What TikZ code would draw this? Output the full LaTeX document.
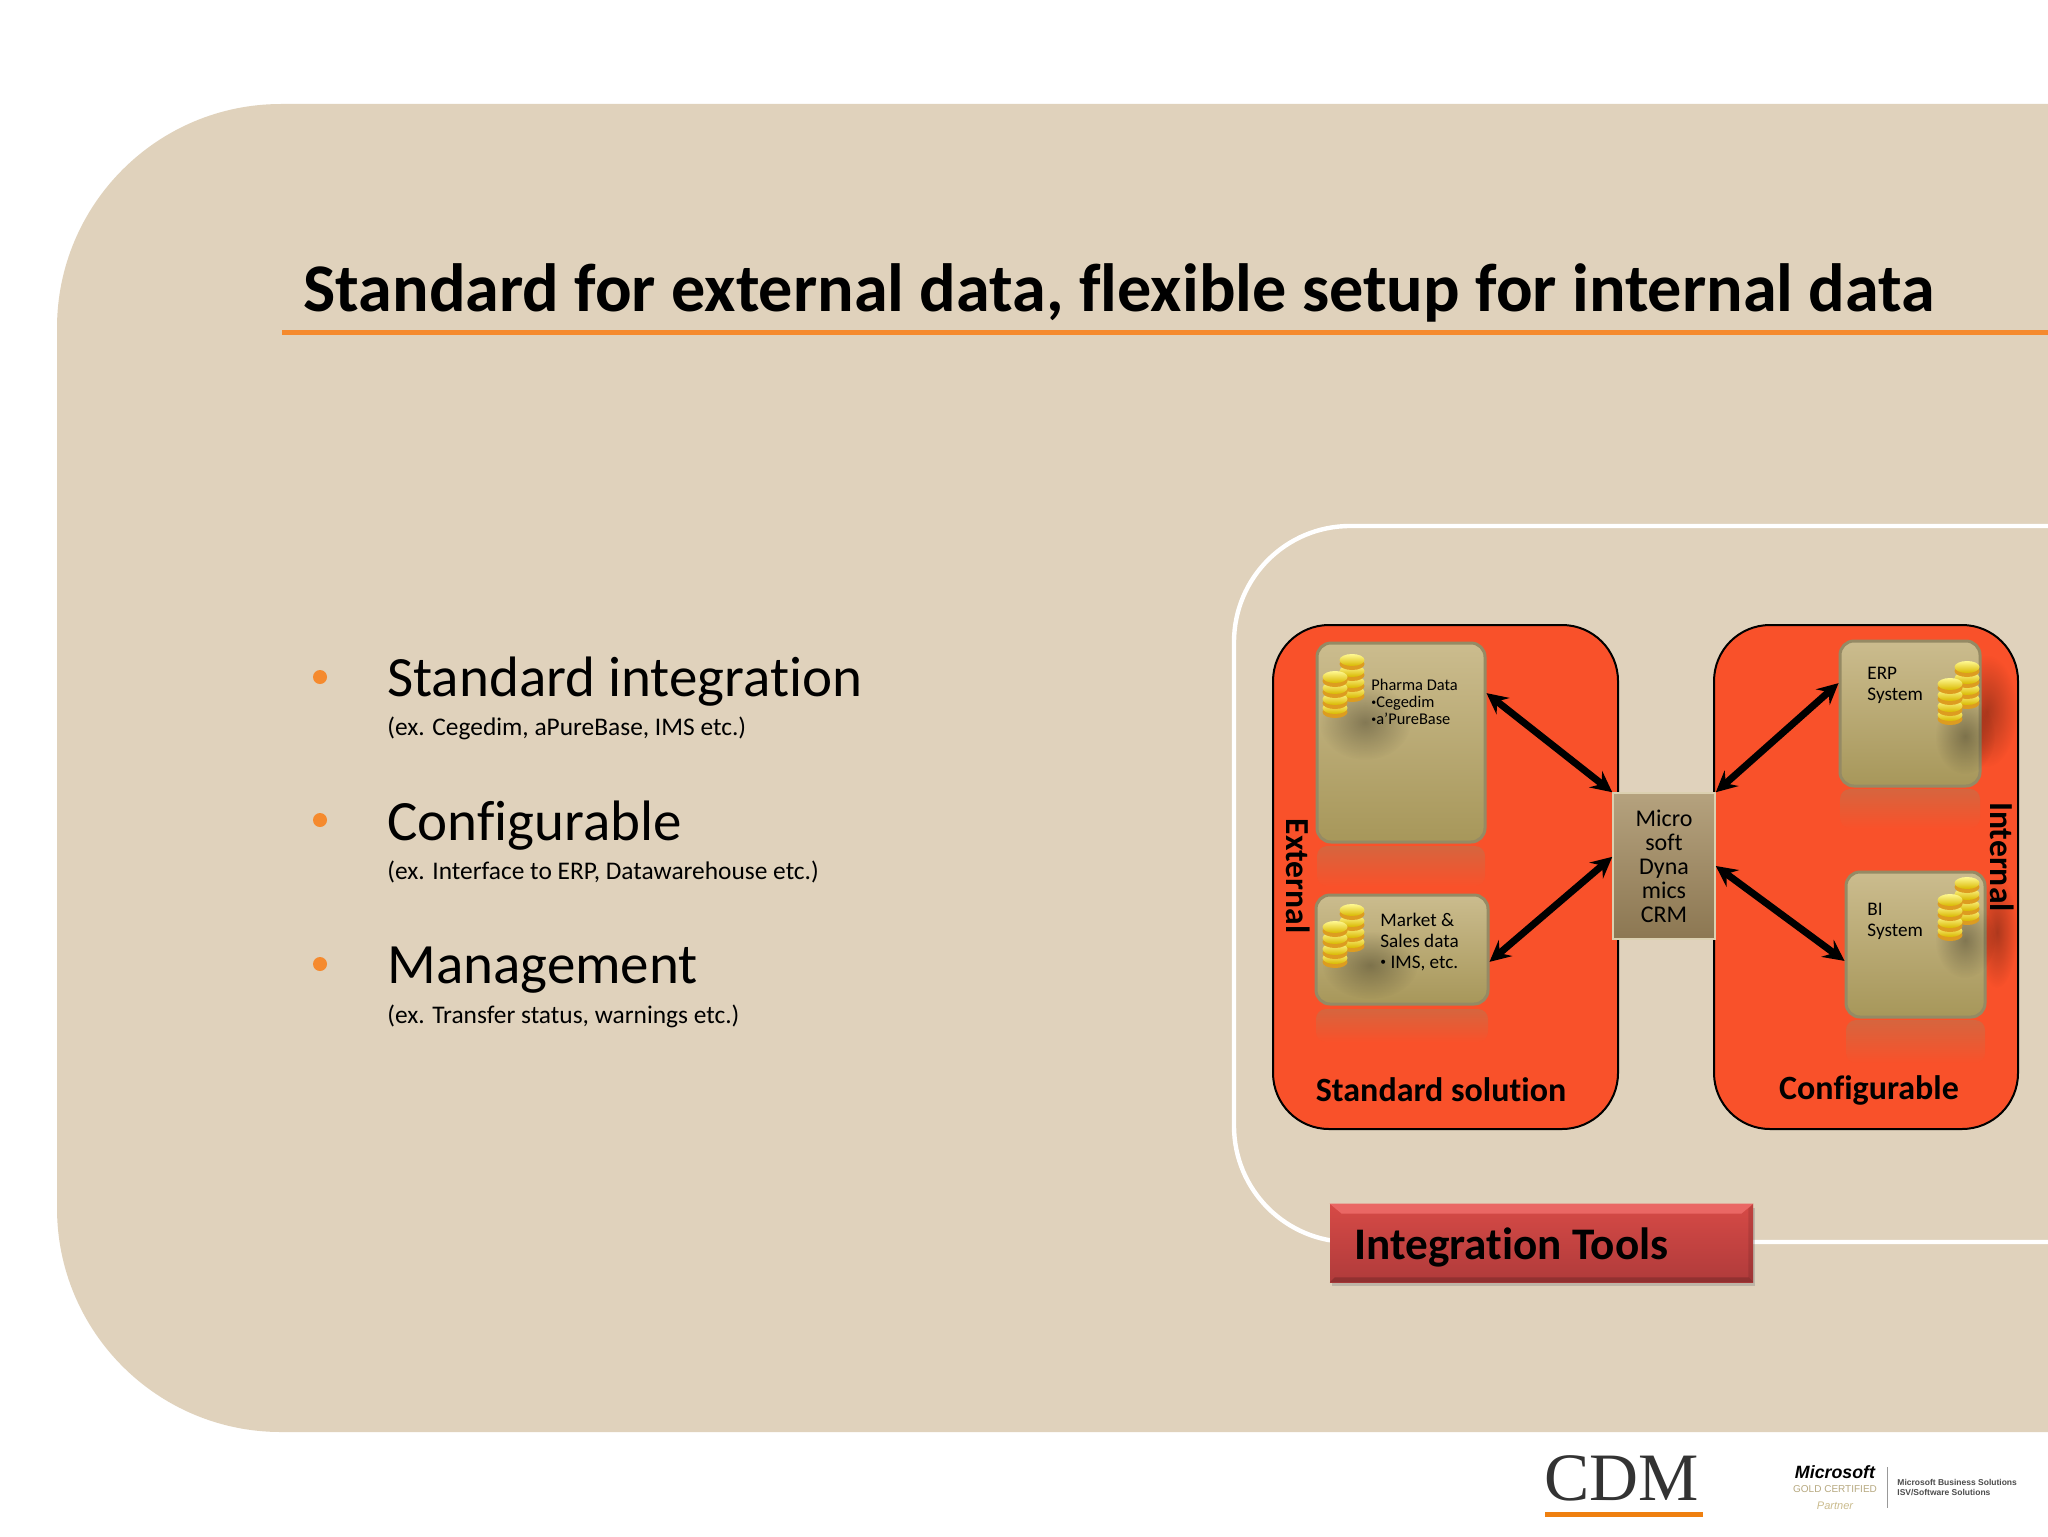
\documentclass[tikz,border=0pt]{standalone}
\usepackage{fontspec}
\usepackage{xcolor}
\setmainfont{Carlito}[Ligatures=CommonOff]
\newfontfamily\logoserif{Liberation Serif}
\newfontfamily\logosans{Liberation Sans}
\usetikzlibrary{positioning}
\usetikzlibrary{arrows,calc,fadings,shadows}
\definecolor{panelcol}{HTML}{E0D2BC}
\definecolor{redcol}{HTML}{F9512A}
\definecolor{rulecol}{HTML}{F58A2E}
\definecolor{boxtop}{HTML}{CBBC8E}
\definecolor{boxbot}{HTML}{A7975A}
\definecolor{boxline}{HTML}{958A64}
\definecolor{crmtop}{HTML}{B5A27E}
\definecolor{crmbot}{HTML}{8C7752}
\definecolor{toolstop}{HTML}{D64A46}
\definecolor{toolsbot}{HTML}{B03B3B}
\newcommand{\fsize}[1]{\fontsize{#1}{#1}\selectfont}
\newcommand{\tinydot}{\raisebox{.14em}{\scalebox{.6}{•}}}
\tikzfading[name=softspot, inner color=transparent!0, outer color=transparent!100]
\tikzset{
   coin/.pic={
       \fill[color=boxline!40!orange!80!yellow] (0,4) ellipse [x radius=12.5, y radius=6];
       \shade[top color=yellow!40!white!95!orange, bottom color=orange!30!yellow!85!black] (0,0) ellipse [x radius=12.5, y radius=6];
   },
   coins/.pic={
       \pic at (9,12) {coin};
       \pic at (9,2) {coin};
       \pic at (9,-9) {coin};
       \pic at (9,-20) {coin};
       \pic at (-8,28) {coin};
       \pic at (-8,19) {coin};
       \pic at (-8,8) {coin};
       \pic at (-8,-3) {coin};
   },
}
\begin{document}
\begin{tikzpicture} [
       x=0.5pt, y=-0.5pt,
       bulletdot/.style={circle, fill=rulecol, inner sep=0pt, minimum size=7pt},
       headline/.style={anchor=base west, inner sep=0pt, font=\fsize{28.5}},
       subline/.style={anchor=base west, inner sep=0pt, font=\fsize{12.7}},
       redbox/.style={draw=black, line width=1pt, fill=redcol, rounded corners=28pt, inner sep=0pt, minimum height=252pt},
       databox/.style={draw=boxline, line width=1.5pt, top color=boxtop, bottom color=boxbot, rounded corners=7pt, inner sep=0pt},
       mirror/.style={top color=boxline!35!redcol, bottom color=redcol, rounded corners=5pt},
       smudge/.style={fill=black, opacity=.3, path fading=softspot},
       boxtext/.style={anchor=west, align=left, inner sep=0pt},
       sidetext/.style={rotate=-90, inner sep=0pt, font=\bfseries\fsize{16.8}},
       foottext/.style={inner sep=0pt, font=\bfseries\fsize{17}},
       line/.style={draw, line width=3.5pt, <->, >=stealth},
       ]
       \useasboundingbox (0,0) rectangle (2048,1536);
       \fill[white] (0,0) rectangle (2048,1536);
       % background panel and title
       \fill[panelcol, rounded corners=112pt] (57,104) rectangle (2400,1432);
       \node (title) [anchor=base west, inner sep=0pt, font=\bfseries\fsize{34.1}] at (303,311) {Standard for external data, flexible setup for internal data};
       \coordinate (rulestart) at (282,332);
       \coordinate (ruleend) at (2048,332);
       \draw[rulecol, line width=2.5pt] (rulestart) -- (ruleend);
       % bullets
       \node (dot1) [bulletdot] at (320,677) {};
       \node (dot2) [bulletdot] at (320,820) {};
       \node (dot3) [bulletdot] at (320,964) {};
       \node (head1) [headline] at (387,696) {Standard integration};
       \node (sub1) [subline] at (387,735) {(ex. Cegedim, aPureBase, IMS etc.)};
       \node (head2) [headline] at (387,840) {Configurable};
       \node (sub2) [subline] at (387,879) {(ex. Interface to ERP, Datawarehouse etc.)};
       \node (head3) [headline] at (387,983) {Management};
       \node (sub3) [subline] at (387,1023) {(ex. Transfer status, warnings etc.)};
       % white frame
       \draw[white, line width=2.2pt, rounded corners=58pt] (1234,526) rectangle (2400,1242);
       % red areas
       \node (external) [redbox, minimum width=172.5pt] at (1445.5,877) {};
       \node (internal) [redbox, minimum width=152pt] at (1866,877) {};
       % dark smudges beside the right boxes
       \fill[smudge] (1987,711) ellipse [x radius=30, y radius=56];
       \fill[smudge] (1997,932) ellipse [x radius=20, y radius=56];
       % reflections
       \shade[mirror] (1317,846) rectangle (1485,886);
       \shade[mirror] (1316,1009) rectangle (1488,1042);
       \shade[mirror] (1840,789) rectangle (1980,828);
       \shade[mirror] (1846,1020) rectangle (1985,1063);
       % data boxes
       \node (pharma) [databox, minimum width=84pt, minimum height=99.5pt] at (1401,742.5) {};
       \node (market) [databox, minimum width=86pt, minimum height=54.5pt] at (1402,949.5) {};
       \node (erp) [databox, minimum width=70pt, minimum height=72.5pt] at (1910,713.5) {};
       \node (bi) [databox, minimum width=69.5pt, minimum height=72.5pt] at (1915.5,944.5) {};
       \node (crm) [draw=boxtop!70!white, line width=.8pt, top color=crmtop, bottom color=crmbot, inner sep=0pt, minimum width=51pt, minimum height=73pt, align=center, font=\fsize{12}] at (1664,866) {Micro\\soft\\Dyna\\mics\\CRM};
       % grey smudges under the coins
       \fill[smudge] (1365,722) ellipse [x radius=46, y radius=38];
       \fill[smudge] (1370,965) ellipse [x radius=48, y radius=34];
       \fill[smudge] (1965,736) ellipse [x radius=30, y radius=38];
       \fill[smudge] (1965,940) ellipse [x radius=30, y radius=38];
       \pic at (1343,680) {coins};
       \pic at (1343,930) {coins};
       \pic at (1958,687) {coins};
       \pic at (1958,903) {coins};
       % box texts
       \node (pharmatext) [boxtext, font=\fontsize{8.2}{8.5}\selectfont] at (1371,702) {Pharma Data\\\tinydot Cegedim\\\tinydot a’PureBase};
       \node (markettext) [boxtext, font=\fontsize{9.6}{10.5}\selectfont] at (1380,942) {Market \&\\Sales data\\\tinydot\ IMS, etc.};
       \node (erptext) [boxtext, font=\fontsize{9.6}{10.5}\selectfont] at (1867,685) {ERP\\System};
       \node (bitext) [boxtext, font=\fontsize{9.6}{10.5}\selectfont] at (1867,921) {BI\\System};
       \node (externaltext) [sidetext] at (1298,876) {External};
       \node (internaltext) [sidetext] at (2002,857) {Internal};
       \node (standardtext) [foottext] at (1441,1090) {Standard solution};
       \node (configtext) [foottext] at (1869,1090) {Configurable};
       % arrows
       \path[line] (pharma.30) -- (crm.north west);
       \path[line] (market.-8) -- (crm.170);
       \path[line] (crm.north east) -- (erp.157);
       \path[line] (crm.east) -- (bi.193);
       % integration tools box
       \node (tools) [inner sep=0pt, top color=toolstop, bottom color=toolsbot, drop shadow={shadow xshift=1pt, shadow yshift=-2pt, opacity=.35}, minimum width=211.5pt, minimum height=39pt] at (1541.5,1243) {};
       \fill[toolstop!70!red!75!white] (tools.north west) -- (tools.north east) -- ($(tools.north east)+(-12,10)$) -- ($(tools.north west)+(12,10)$) -- cycle;
       \fill[black, opacity=.18] (tools.south west) -- (tools.south east) -- ($(tools.south east)+(-5,-5)$) -- ($(tools.south west)+(5,-5)$) -- cycle;
       \fill[black, opacity=.1] (tools.north east) -- (tools.south east) -- ($(tools.south east)+(-5,-5)$) -- ($(tools.north east)+(-5,5)$) -- cycle;
       \node (toolstext) [anchor=base west, inner sep=0pt, font=\bfseries\fsize{22.6}] at (1354,1259) {Integration Tools};
       % logos
       \node (cdm) [anchor=base west, inner sep=0pt, text=black!80, font=\logoserif\fsize{33.9}] at (1544,1500) {CDM};
       \coordinate (cdmbarl) at (1545,1514);
       \coordinate (cdmbarr) at (1703,1514);
       \draw[orange!75!brown, line width=2.5pt] (cdmbarl) -- (cdmbarr);
       \node (mslogo) [inner sep=0pt, font=\logosans\bfseries\itshape\fsize{8.9}] at (1835,1472) {Microsoft};
       \node (gold) [inner sep=0pt, text=boxtop!90!black, font=\logosans\fsize{5}] at (1835,1489) {GOLD CERTIFIED};
       \node (partner) [inner sep=0pt, text=boxtop, font=\logosans\itshape\fsize{5.5}] at (1835,1506) {Partner};
       \coordinate (msbart) at (1887,1467);
       \coordinate (msbarb) at (1887,1508);
       \draw[black!40, line width=.5pt] (msbart) -- (msbarb);
       \node (mstext) [anchor=west, align=left, inner sep=0pt, text=black!70, font=\logosans\bfseries\fontsize{4.25}{5}\selectfont] at (1897,1487) {Microsoft Business Solutions\\ISV/Software Solutions};
\end{tikzpicture}
\end{document}
